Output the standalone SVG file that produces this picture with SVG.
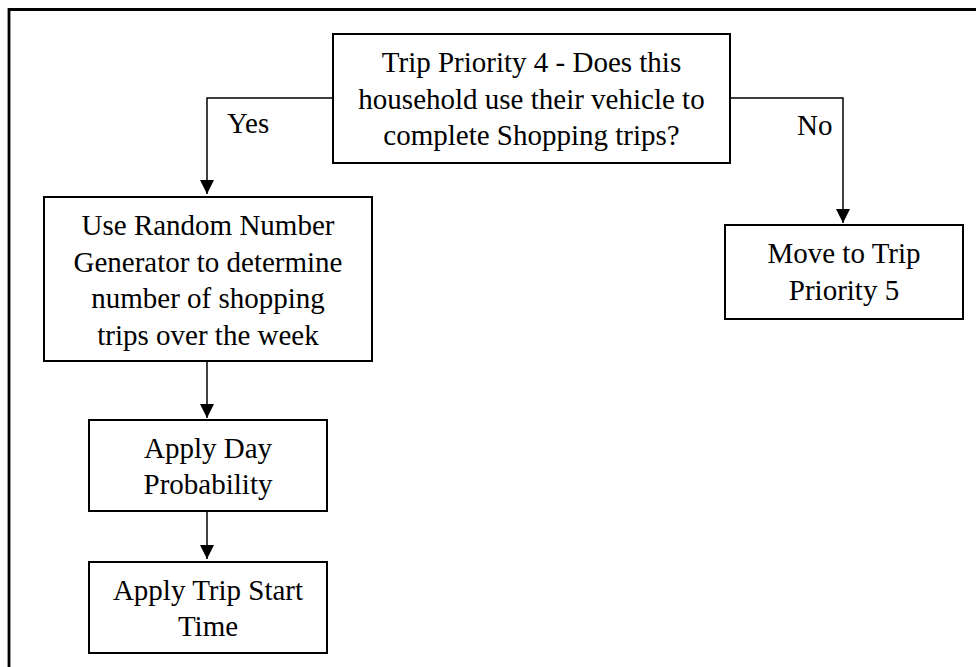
<svg xmlns="http://www.w3.org/2000/svg" width="976" height="667" viewBox="0 0 976 667">
<defs>
<style>
.box{fill:#fff;stroke:#000;stroke-width:2}
.t{font-family:"Liberation Serif","Times New Roman",serif;font-size:29px;fill:#000;text-anchor:middle}
.lbl{font-family:"Liberation Serif","Times New Roman",serif;font-size:29px;fill:#000}
.c{fill:none;stroke:#000;stroke-width:1.5}
</style>
<marker id="ah" viewBox="0 0 14 14" refX="14" refY="7" markerWidth="14" markerHeight="14" markerUnits="userSpaceOnUse" orient="auto">
<path d="M0,0 L14,7 L0,14 Z" fill="#000"/>
</marker>
</defs>
<rect width="976" height="667" fill="#fff"/>
<g id="frame">
<path d="M9,667 V9.5 H976" fill="none" stroke="#000" stroke-width="2.8"/>
</g>
<g id="connectors">
<path class="c" d="M333,98 H207 V194" marker-end="url(#ah)"/>
<text class="lbl" x="227" y="133">Yes</text>
<path class="c" d="M730,98 H843 V223" marker-end="url(#ah)"/>
<text class="lbl" x="797" y="135">No</text>
<path class="c" d="M207,361 V418" marker-end="url(#ah)"/>
<path class="c" d="M207,511 V559" marker-end="url(#ah)"/>
</g>
<g id="n_decision">
<rect class="box" x="333" y="34" width="397" height="129"/>
<text class="t" x="531.5" y="72">Trip Priority 4 - Does this</text>
<text class="t" x="531.5" y="108.5">household use their vehicle to</text>
<text class="t" x="531.5" y="145">complete Shopping trips?</text>
</g>
<g id="n_random">
<rect class="box" x="44" y="197" width="328" height="164"/>
<text class="t" x="208" y="235">Use Random Number</text>
<text class="t" x="208" y="272">Generator to determine</text>
<text class="t" x="208" y="308">number of shopping</text>
<text class="t" x="208" y="345">trips over the week</text>
</g>
<g id="n_move">
<rect class="box" x="725" y="225" width="238" height="94"/>
<text class="t" x="844" y="263">Move to Trip</text>
<text class="t" x="844" y="300">Priority 5</text>
</g>
<g id="n_day">
<rect class="box" x="89" y="420" width="238" height="91"/>
<text class="t" x="208" y="458">Apply Day</text>
<text class="t" x="208" y="494">Probability</text>
</g>
<g id="n_start">
<rect class="box" x="89" y="562" width="238" height="91"/>
<text class="t" x="208" y="600">Apply Trip Start</text>
<text class="t" x="208" y="636">Time</text>
</g>
</svg>
